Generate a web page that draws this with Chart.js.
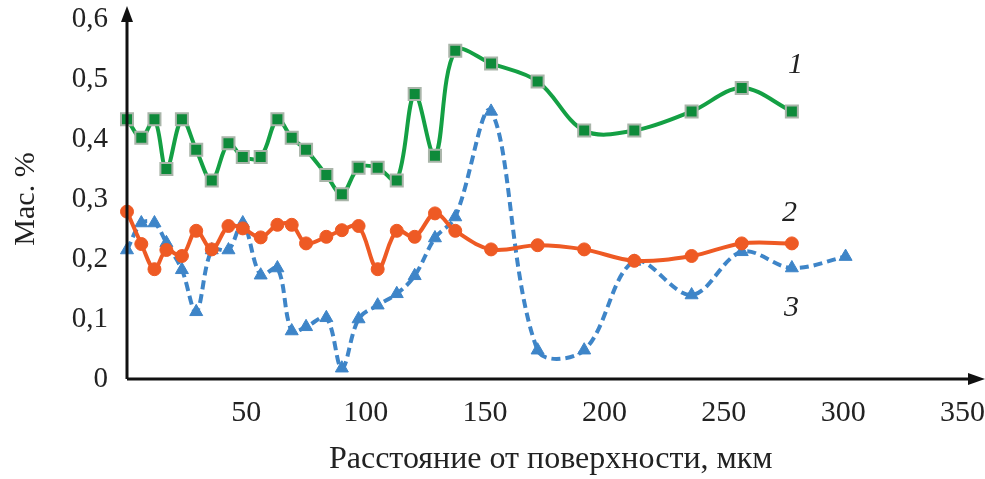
<!DOCTYPE html>
<html>
<head>
<meta charset="utf-8">
<script src="https://cdn.jsdelivr.net/npm/chart.js@4"></script>
<style>
  html, body { margin: 0; padding: 0; background: #fff; }
  #wrap { width: 985px; height: 479px; }
</style>
</head>
<body>
<div id="wrap"><canvas id="chart" width="985" height="479"></canvas></div>
<script>
// Distance from surface, um (shared by all three curves)
const depth = [0, 6, 11.5, 16.5, 23, 29, 35.5, 42.5, 48.5, 56, 63, 69, 75, 83.5,
  90, 97, 105, 113, 120.5, 129, 137.5, 152.5, 172, 191.5, 212.5, 236.5, 257.5, 278.5];
// curve 3 has one extra point at the end
const depthBlue = depth.concat([301]);

// Mass %
const curve1 = [0.433, 0.402, 0.433, 0.350, 0.433, 0.382, 0.331, 0.393, 0.370, 0.370,
  0.433, 0.402, 0.382, 0.340, 0.308, 0.352, 0.352, 0.331, 0.475, 0.372,
  0.547, 0.526, 0.496, 0.414, 0.414, 0.446, 0.485, 0.446];
const curve2 = [0.279, 0.225, 0.183, 0.215, 0.205, 0.247, 0.216, 0.255, 0.251, 0.236,
  0.257, 0.257, 0.226, 0.237, 0.248, 0.255, 0.183, 0.247, 0.237, 0.276,
  0.247, 0.216, 0.223, 0.216, 0.197, 0.205, 0.226, 0.226];
const curve3 = [0.215, 0.260, 0.260, 0.227, 0.182, 0.112, 0.215, 0.215, 0.260, 0.173,
  0.185, 0.080, 0.087, 0.102, 0.018, 0.100, 0.123, 0.142, 0.172, 0.235,
  0.270, 0.446, 0.048, 0.048, 0.196, 0.140, 0.212, 0.185, 0.204];

// curve numbers written next to the lines
const curveNames = ['1', '2', '3'];
const curveNameAt = [[280, 0.523], [277.5, 0.277], [278.3, 0.118]];

const xTitle = 'Расстояние от поверхности, мкм';
const yTitle = 'Мас. %';

const SERIF = '"Liberation Serif", "DejaVu Serif", serif';
const TEXT = '#222';

function pairs(xs, ys) {
  return ys.map((y, i) => ({ x: xs[i], y: y }));
}

// axes with arrow heads, drawn past the chart area like in the figure
const arrowAxes = {
  id: 'arrowAxes',
  afterDatasetsDraw(chart) {
    const { ctx, chartArea } = chart;
    const x0 = chartArea.left, y0 = chartArea.bottom;
    ctx.save();
    ctx.strokeStyle = '#111';
    ctx.fillStyle = '#111';
    ctx.lineWidth = 3;
    ctx.beginPath();
    ctx.moveTo(x0, y0);
    ctx.lineTo(x0, 14);
    ctx.moveTo(x0, y0);
    ctx.lineTo(972, y0);
    ctx.stroke();
    // y arrow
    ctx.beginPath();
    ctx.moveTo(x0, 6);
    ctx.lineTo(x0 - 6, 22);
    ctx.lineTo(x0 + 6, 22);
    ctx.closePath();
    ctx.fill();
    // x arrow
    ctx.beginPath();
    ctx.moveTo(985, y0);
    ctx.lineTo(968, y0 - 6);
    ctx.lineTo(968, y0 + 6);
    ctx.closePath();
    ctx.fill();
    ctx.restore();
  }
};

const curveLabels = {
  id: 'curveLabels',
  afterDatasetsDraw(chart) {
    const { ctx, scales } = chart;
    ctx.save();
    ctx.font = 'italic 30px ' + SERIF;
    ctx.fillStyle = TEXT;
    ctx.textAlign = 'center';
    ctx.textBaseline = 'middle';
    curveNames.forEach((name, i) => {
      const [vx, vy] = curveNameAt[i];
      ctx.fillText(name, scales.x.getPixelForValue(vx), scales.y.getPixelForValue(vy));
    });
    ctx.restore();
  }
};

new Chart(document.getElementById('chart'), {
  type: 'line',
  data: {
    datasets: [
      {
        label: '1',
        data: pairs(depth, curve1),
        borderColor: '#14a044',
        borderWidth: 4,
        pointStyle: 'rect',
        pointRadius: 8.5,
        pointBackgroundColor: '#0e8a3a',
        pointBorderColor: '#a9b5a9',
        pointBorderWidth: 2
      },
      {
        label: '2',
        data: pairs(depth, curve2),
        borderColor: '#ee5a24',
        borderWidth: 4,
        pointStyle: 'circle',
        pointRadius: 6.5,
        pointBackgroundColor: '#ee5a24',
        pointBorderColor: '#ee5a24',
        pointBorderWidth: 1
      },
      {
        label: '3',
        data: pairs(depthBlue, curve3),
        borderColor: '#3e85c8',
        borderWidth: 4,
        borderDash: [9, 5],
        pointStyle: 'triangle',
        pointRadius: 7.5,
        pointBackgroundColor: '#3e85c8',
        pointBorderColor: '#3e85c8',
        pointBorderWidth: 1
      }
    ]
  },
  options: {
    responsive: false,
    animation: false,
    clip: false,
    layout: { padding: { top: 19, right: 10, left: 0, bottom: 0 } },
    elements: { line: { tension: 0.35 } },
    plugins: {
      legend: { display: false },
      tooltip: { enabled: false }
    },
    scales: {
      x: {
        type: 'linear',
        min: 0,
        max: 355,
        grid: { display: false, drawTicks: false },
        border: { display: false },
        ticks: {
          stepSize: 50,
          includeBounds: false,
          padding: 16,
          autoSkip: false,
          maxRotation: 0,
          color: TEXT,
          font: { family: SERIF, size: 30 },
          callback: v => (v > 0 && v % 50 === 0) ? String(v) : ''
        },
        title: {
          display: true,
          text: xTitle,
          color: TEXT,
          font: { family: SERIF, size: 32 },
          padding: { top: 0, bottom: 0 }
        },
        afterFit: s => { s.height = 100; s.paddingLeft = 0; s.paddingRight = 0; }
      },
      y: {
        min: 0,
        max: 0.6,
        grid: { display: false, drawTicks: false },
        border: { display: false },
        ticks: {
          stepSize: 0.1,
          padding: 19,
          color: TEXT,
          font: { family: SERIF, size: 29 },
          callback: v => v === 0 ? '0' : v.toFixed(1).replace('.', ',')
        },
        title: {
          display: true,
          text: yTitle,
          color: TEXT,
          font: { family: SERIF, size: 30 },
          padding: { top: 8, bottom: 0 }
        },
        afterFit: s => { s.width = 127; s.paddingTop = 0; s.paddingBottom = 0; }
      }
    }
  },
  plugins: [arrowAxes, curveLabels]
});
</script>
</body>
</html>
